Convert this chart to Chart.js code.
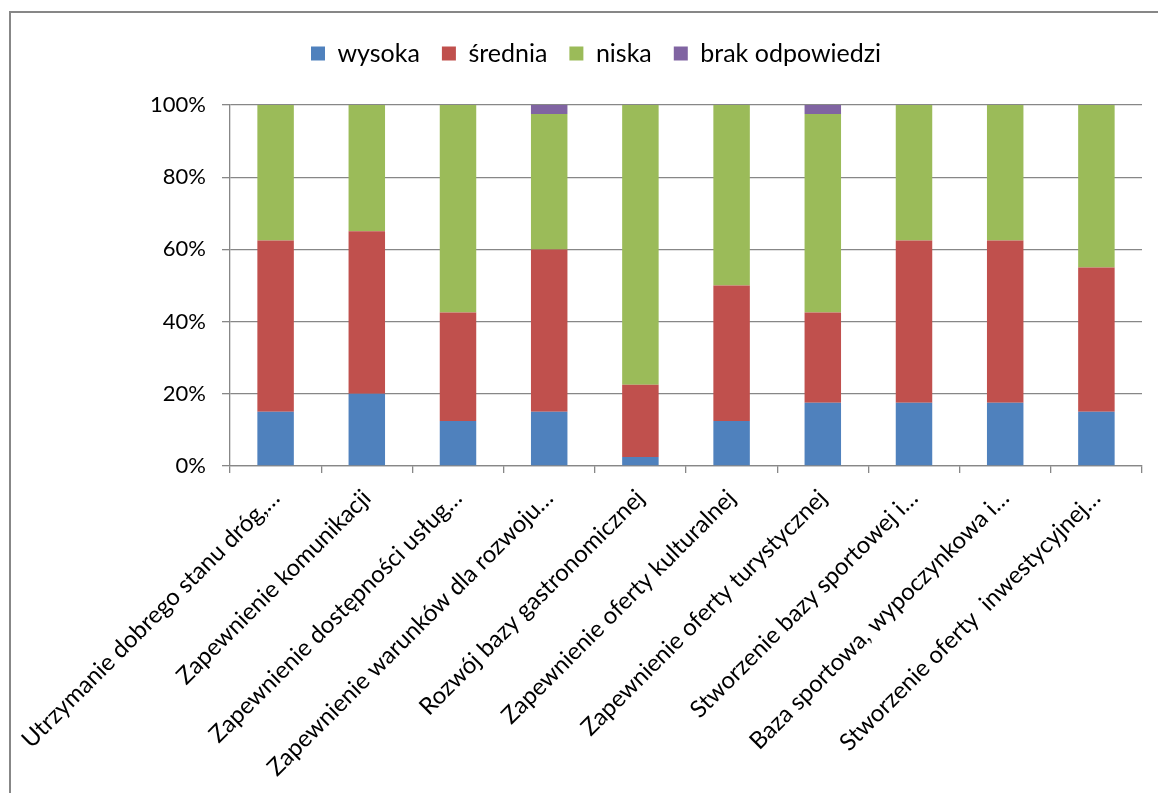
<!DOCTYPE html>
<html>
<head>
<meta charset="utf-8">
<script src="https://cdn.jsdelivr.net/npm/chart.js@4"></script>
<style>
  html, body { margin: 0; padding: 0; background: #fff; overflow: hidden; }
  #wrap { position: relative; width: 1158px; height: 793px; }
  #frame { position: absolute; left: 9px; top: 11px; width: 1200px; height: 900px;
           border: 2px solid #878787; box-sizing: border-box; }
</style>
</head>
<body>
<div id="wrap">
  <div id="frame"></div>
  <canvas id="chart"></canvas>
</div>
<script>
'use strict';

const categories = [
  'Utrzymanie dobrego stanu dróg,…',
  'Zapewnienie komunikacji',
  'Zapewnienie dostępności usług…',
  'Zapewnienie warunków dla rozwoju…',
  'Rozwój bazy gastronomicznej',
  'Zapewnienie oferty kulturalnej',
  'Zapewnienie oferty turystycznej',
  'Stworzenie bazy sportowej i…',
  'Baza sportowa, wypoczynkowa i…',
  'Stworzenie oferty  inwestycyjnej…',
];

// percentages of answers
const wysoka = [15, 20, 12.5, 15, 2.5, 12.5, 17.5, 17.5, 17.5, 15];
const srednia = [47.5, 45, 30, 45, 20, 37.5, 25, 45, 45, 40];
const niska = [37.5, 35, 57.5, 37.5, 77.5, 50, 55, 37.5, 37.5, 45];
const brak = [0, 0, 0, 2.5, 0, 0, 2.5, 0, 0, 0];

const yTicks = [0, 20, 40, 60, 80, 100];

const gridColor = '#878787';

// push the plot area down below the legend, nudge legend to the right
const legendSpacer = {
  id: 'legendSpacer',
  beforeInit(chart) {
    const originalFit = chart.legend.fit;
    chart.legend.fit = function fit() {
      originalFit.bind(chart.legend)();
      this.height += 29;
    };
  },
  afterLayout(chart) {
    chart.legend.left += 25;
    chart.legend.right += 25;
  },
};

const ctx = document.getElementById('chart').getContext('2d');

new Chart(ctx, {
  type: 'bar',
  data: {
    labels: categories,
    datasets: [
      { label: 'wysoka', data: wysoka, backgroundColor: '#4F81BD' },
      { label: 'średnia', data: srednia, backgroundColor: '#C0504D' },
      { label: 'niska', data: niska, backgroundColor: '#9BBB59' },
      { label: 'brak odpowiedzi', data: brak, backgroundColor: '#8064A2' },
    ],
  },
  options: {
    responsive: true,
    maintainAspectRatio: false,
    animation: false,
    barPercentage: 0.4,
    categoryPercentage: 1,
    layout: {
      padding: { top: 19, right: 16, left: 0, bottom: 0 },
    },
    scales: {
      x: {
        stacked: true,
        afterFit: (scale) => {
          scale.height = 327;
        },
        grid: {
          offset: true,
          drawOnChartArea: false,
          color: gridColor,
          lineWidth: 1.3,
          tickLength: 7,
        },
        border: { color: gridColor, width: 1.3 },
        ticks: {
          color: '#000',
          font: { family: 'Lato', size: 23.8 },
          autoSkip: false,
          minRotation: 45,
          maxRotation: 45,
          padding: 11,
        },
      },
      y: {
        stacked: true,
        min: 0,
        max: 100,
        afterFit: (scale) => {
          scale.width = 230;
        },
        afterBuildTicks: (scale) => {
          scale.ticks = yTicks.map((v) => ({ value: v }));
        },
        grid: {
          color: gridColor,
          lineWidth: 1.3,
          tickLength: 8,
        },
        border: { color: gridColor, width: 1.3 },
        ticks: {
          color: '#000',
          font: { family: 'Lato', size: 22 },
          padding: 16,
          callback: (value) => value + '%',
        },
      },
    },
    plugins: {
      legend: {
        position: 'top',
        labels: {
          color: '#000',
          font: { family: 'Lato', size: 25 },
          boxWidth: 14,
          boxHeight: 14,
          padding: 22,
        },
      },
      tooltip: { enabled: false },
    },
  },
  plugins: [legendSpacer],
});
</script>
</body>
</html>
